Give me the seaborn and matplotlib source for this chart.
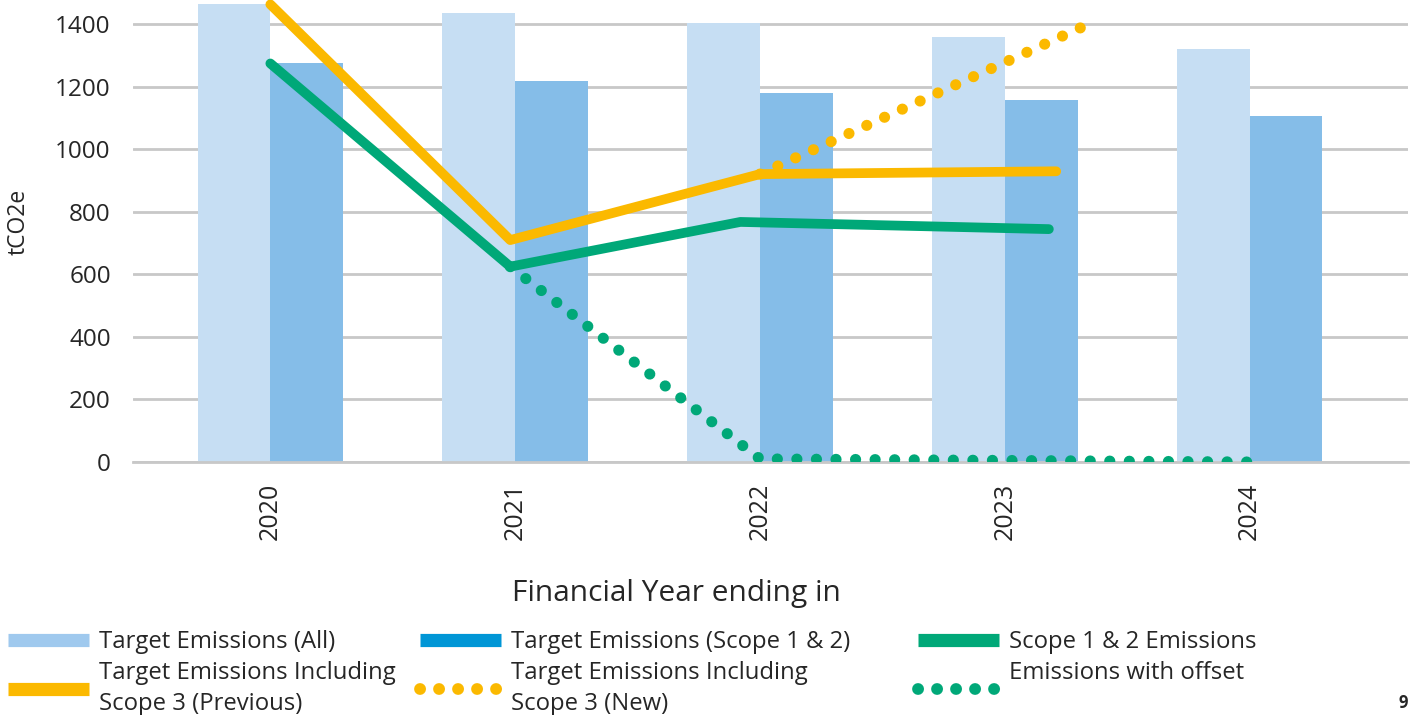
import pandas as pd
import seaborn as sns
from matplotlib import pyplot as plt
from matplotlib.lines import Line2D

# bar data
years = ['2020', '2021', '2022', '2023', '2024']
target_all = [1464, 1438, 1403, 1359, 1320]
target_scope12 = [1278, 1218, 1179, 1157, 1106]

# line data (x in category positions)
prev_x = [0, 0.98, 2.0, 3.21]
prev_vals = [1464, 710, 921, 930]
new_x = [2.0, 3.34]
new_vals = [921, 1400]
scope12_x = [0, 0.98, 1.92, 3.18]
scope12_vals = [1275, 625, 768, 745]
offset_x = [0.98, 2, 3, 4]
offset_vals = [625, 10, 5, 0]

series_names = ['Target Emissions (All)', 'Target Emissions (Scope 1 & 2)']

light_bar = '#c6def3'
dark_bar = '#85bde8'
yellow = '#fbb900'
green = '#00a878'
grid_col = '#c8c8c8'

df = pd.DataFrame({
    'year': years * 2,
    'value': target_all + target_scope12,
    'series': [series_names[0]] * 5 + [series_names[1]] * 5,
})

sns.set_style('white')
plt.rcParams['font.family'] = ['Open Sans', 'DejaVu Sans']

fig = plt.figure(figsize=(14.15, 7.15), dpi=100)
ax = fig.add_axes([133 / 1415, 1 - 462 / 715, 1275 / 1415, 462 / 715])

sns.barplot(data=df, x='year', y='value', hue='series', order=years,
            hue_order=series_names, palette=[light_bar, dark_bar],
            saturation=1, width=0.595, legend=False, ax=ax, zorder=2,
            linewidth=0, edgecolor='none')

dots = (0, (0.01, 1.75))
sns.lineplot(x=prev_x, y=prev_vals, color=yellow, lw=7, ax=ax,
             solid_capstyle='round', solid_joinstyle='round', zorder=3)
sns.lineplot(x=new_x, y=new_vals, color=yellow, lw=8, ax=ax,
             linestyle=dots, dash_capstyle='round', zorder=3)
sns.lineplot(x=scope12_x, y=scope12_vals, color=green, lw=7, ax=ax,
             solid_capstyle='round', solid_joinstyle='round', zorder=3)
sns.lineplot(x=offset_x, y=offset_vals, color=green, lw=8, ax=ax,
             linestyle=dots, dash_capstyle='round', zorder=3)

ax.set_ylim(0, 1478)
ax.set_xlim(-0.561, 4.647)
ax.set_yticks(range(0, 1401, 200))
ax.set_xticks(range(5))
ax.set_xticklabels(years, rotation=90)
ax.set_xticks([i - 0.5 for i in range(6)], minor=True)
ax.tick_params(axis='x', which='major', length=0, pad=15, labelsize=18)
ax.tick_params(axis='x', which='minor', length=6, width=2, color=grid_col, direction='out')
ax.tick_params(axis='y', length=0, pad=16, labelsize=17.5)
ax.yaxis.grid(True, color=grid_col, lw=2)
ax.set_axisbelow(True)
for s in ['left', 'right', 'top']:
    ax.spines[s].set_visible(False)
ax.spines['bottom'].set_color(grid_col)
ax.spines['bottom'].set_linewidth(2)
ax.set_xlabel('')
ax.set_ylabel('')

fig.text(19 / 1415, 1 - 222 / 715, 'tCO2e', rotation=90, ha='center', va='center', fontsize=16.5)
fig.text(676 / 1415, 1 - 593 / 715, 'Financial Year ending in', ha='center', va='center', fontsize=21.5)
fig.text(1403 / 1415, 1 - 703 / 715, '9', ha='center', va='center', fontsize=12, fontweight='bold')

# legend, three columns
solid_kw = dict(lw=9.5, solid_capstyle='butt')
dot_kw = dict(lw=8.5, linestyle=(0, (0.01, 1.6)), dash_capstyle='round')
columns = [
    (8, [Line2D([], [], color='#9fc9ee', **solid_kw), Line2D([], [], color=yellow, **solid_kw)],
     ['Target Emissions (All)', 'Target Emissions Including\nScope 3 (Previous)']),
    (420, [Line2D([], [], color='#0096d6', **solid_kw), Line2D([], [], color=yellow, **dot_kw)],
     ['Target Emissions (Scope 1 & 2)', 'Target Emissions Including\nScope 3 (New)']),
    (918, [Line2D([], [], color=green, **solid_kw), Line2D([], [], color=green, **dot_kw)],
     ['Scope 1 & 2 Emissions', 'Emissions with offset\n']),
]
for x0, handles, labels in columns:
    leg = fig.legend(handles, labels, loc='upper left', bbox_to_anchor=(x0 / 1415, 1 - 630 / 715),
                     frameon=False, borderpad=0, borderaxespad=0, fontsize=17.2,
                     handlelength=3.4, handletextpad=0.4, labelspacing=0.3)
    for t in leg.get_texts():
        t.set_linespacing(1.36)

fig.savefig('out.png', dpi=100)
